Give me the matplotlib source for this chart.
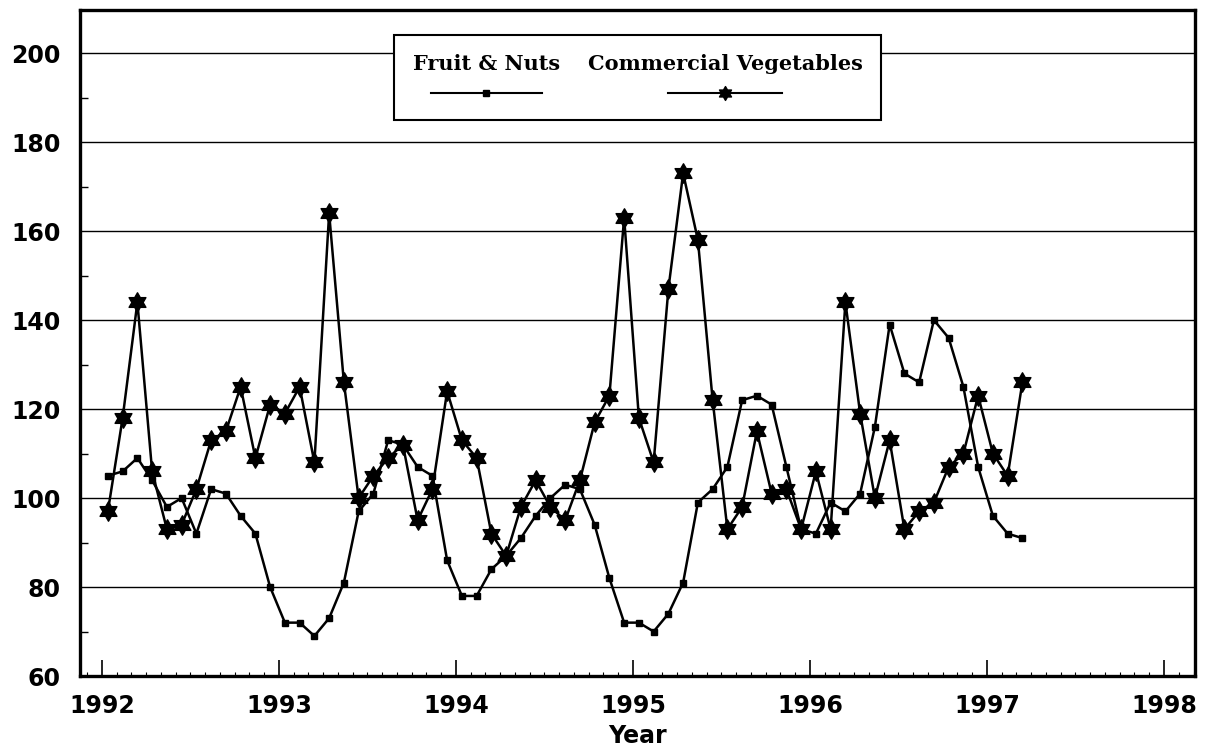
import numpy as np
import matplotlib
matplotlib.use("Agg")
import matplotlib.pyplot as plt
from matplotlib.ticker import MultipleLocator, FixedLocator
from matplotlib.offsetbox import TextArea, DrawingArea, VPacker, HPacker, AnchoredOffsetbox
from matplotlib.lines import Line2D
from matplotlib.path import Path

# ---- data (monthly, Jan 1992 - Mar 1997) ----
start_year = 1992
n_months = 63
fruit_nuts = [105, 106, 109, 104, 98, 100, 92, 102, 101, 96,
              92, 80, 72, 72, 69, 73, 81, 97, 101, 113,
              112, 107, 105, 86, 78, 78, 84, 87, 91, 96,
              100, 103, 102, 94, 82, 72, 72, 70, 74, 81,
              99, 102, 107, 122, 123, 121, 107, 93, 92, 99,
              97, 101, 116, 139, 128, 126, 140, 136, 125, 107,
              96, 92, 91]
comm_veg = [97, 118, 144, 106, 93, 94, 102, 113, 115, 125,
            109, 121, 119, 125, 108, 164, 126, 100, 105, 109,
            112, 95, 102, 124, 113, 109, 92, 87, 98, 104,
            98, 95, 104, 117, 123, 163, 118, 108, 147, 173,
            158, 122, 93, 98, 115, 101, 102, 93, 106, 93,
            144, 119, 100, 113, 93, 97, 99, 107, 110, 123,
            110, 105, 126]
year_ticks = [1992, 1993, 1994, 1995, 1996, 1997, 1998]
y_ticks = [60, 80, 100, 120, 140, 160, 180, 200]
labels = ["Fruit & Nuts", "Commercial Vegetables"]

# month positions as decimal years
x = start_year + (np.arange(n_months) + 0.4) / 12.0

# hexagram (Star of David) marker
ang = np.pi / 2 + np.arange(12) * np.pi / 6
rad = np.where(np.arange(12) % 2 == 0, 1.0, 1 / np.sqrt(3))
verts = np.column_stack([rad * np.cos(ang), rad * np.sin(ang)])
verts = np.vstack([verts, verts[:1]])
codes = [Path.MOVETO] + [Path.LINETO] * 11 + [Path.CLOSEPOLY]
star = Path(verts, codes)

fig = plt.figure(figsize=(12.09, 7.55), dpi=100)
ax = fig.add_axes([0.0662, 0.1046, 0.9222, 0.8822])

ax.plot(x, fruit_nuts, color="black", lw=1.8, marker="s", ms=4, zorder=3)
ax.plot(x, comm_veg, color="black", lw=1.8, marker=star, ms=14, zorder=4)

ax.set_xlim(1991.876, 1998.175)
ax.set_ylim(60, 209.7)

ax.xaxis.set_major_locator(FixedLocator(year_ticks))
ax.xaxis.set_minor_locator(MultipleLocator(1 / 12))
ax.yaxis.set_major_locator(FixedLocator(y_ticks))
ax.yaxis.set_minor_locator(MultipleLocator(10))

ax.grid(axis="y", which="major", color="black", lw=1.0, zorder=1)
ax.set_axisbelow(True)

tickfont = dict(family="DejaVu Sans", weight="bold", size=17)
ax.set_xticklabels([str(y) for y in year_ticks], fontdict=tickfont)
ax.set_yticklabels([str(v) for v in y_ticks], fontdict=tickfont)

ax.tick_params(axis="x", which="major", direction="in", length=11.5, width=1.2, pad=13)
ax.tick_params(axis="x", which="minor", direction="in", length=3, width=0.8)
ax.tick_params(axis="y", which="major", length=0, pad=14)
ax.tick_params(axis="y", which="minor", direction="in", length=6, width=1.0)

for sp in ax.spines.values():
    sp.set_linewidth(2.4)
    sp.set_color("black")

ax.set_xlabel("Year", fontdict=dict(family="DejaVu Sans", weight="bold", size=17), labelpad=4)

# ---- legend: text above line sample ----
lfont = dict(family="DejaVu Serif", weight="bold", size=15, color="black")

def make_entry(label, marker, ms, width):
    ta = TextArea(label, textprops=lfont)
    da = DrawingArea(width, 12, 0, 0)
    da.add_artist(Line2D([0, width], [6, 6], color="black", lw=1.5))
    da.add_artist(Line2D([width / 2], [6], color="black", marker=marker, ms=ms,
                         linestyle="none"))
    return VPacker(children=[ta, da], align="center", pad=0, sep=8)

e1 = make_entry(labels[0], "s", 4, 80)
e2 = make_entry(labels[1], star, 10, 82)
row = HPacker(children=[e1, e2], align="top", pad=0, sep=20)
anch = AnchoredOffsetbox(loc="upper center", child=row, pad=1.1,
                         borderpad=0, frameon=True,
                         bbox_to_anchor=(0.5, 0.962),
                         bbox_transform=ax.transAxes,
                         prop=dict(size=12))
anch.patch.set_boxstyle("square", pad=0)
anch.patch.set_edgecolor("black")
anch.patch.set_facecolor("white")
anch.patch.set_linewidth(1.5)
anch.set_zorder(10)
ax.add_artist(anch)

fig.savefig("out.png", dpi=100)
